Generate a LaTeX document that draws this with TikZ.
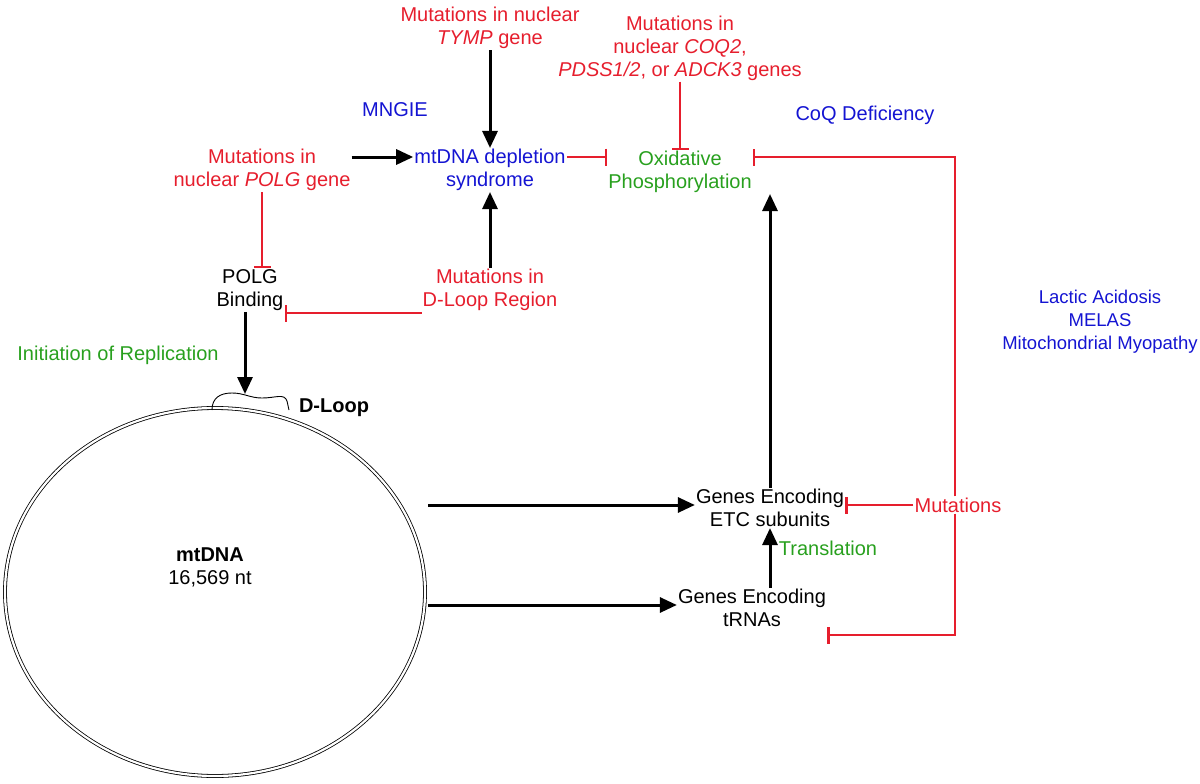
\documentclass[tikz,border=0pt]{standalone}
\usepackage{fontspec}
\setmainfont{Liberation Sans}
\usetikzlibrary{arrows.meta}
\definecolor{mred}{RGB}{230,30,45}
\definecolor{mblue}{RGB}{20,20,210}
\definecolor{mgreen}{RGB}{40,160,30}
\begin{document}
\begin{tikzpicture}[x=1pt,y=-1pt,font=\fontsize{20}{23}\selectfont,
  txt/.style={align=center,inner sep=1pt},
  act/.style={line width=3pt,-{Triangle[length=17pt,width=15pt]}},
  inh/.style={mred,line width=2.4pt,-{Bar[width=17pt]}}]

  \useasboundingbox (0,0) rectangle (1200,784);

  % texts
  \node[txt,mred] (tymp) at (490,28) {Mutations in nuclear\\\textit{TYMP} gene};
  \node[txt,mblue] (mngie) at (395,110) {MNGIE};
  \node[txt,mblue] (mds) at (490,170) {mtDNA depletion\\syndrome};
  \node[txt,mred] (polg) at (262,170) {Mutations in\\nuclear \textit{POLG} gene};
  \node[txt,mred] (coq) at (680,48) {Mutations in\\nuclear \textit{COQ2},\\\textit{PDSS1/2}, or \textit{ADCK3} genes};
  \node[txt,mblue] (coqd) at (865,115) {CoQ Deficiency};
  \node[txt,mgreen] (oxph) at (680,172) {Oxidative\\Phosphorylation};
  \node[txt] (bind) at (250,290) {POLG\\Binding};
  \node[txt,mred] (dmut) at (490,290) {Mutations in\\D-Loop Region};
  \node[txt,mgreen] (init) at (118,355) {Initiation of Replication};
  \node[txt] (etc) at (770,508) {Genes Encoding\\ETC subunits};
  \node[txt] (trna) at (752,608) {Genes Encoding\\tRNAs};
  \node[txt,mgreen] (transl) at (828,548) {Translation};
  \node[txt,mred] (mut) at (958,505) {Mutations};
  \node[txt,mblue,font=\fontsize{18.5}{23}\selectfont] (dis) at (1100,322) {Lactic Acidosis\\MELAS\\Mitochondrial Myopathy};

  % mtDNA circle
  \draw[double,line width=0.8pt,double distance=2.2pt] (215,592) ellipse (210 and 184);
  \draw[line width=0.9pt] (212,410) .. controls (212,398) and (220,393) .. (232,393)
    .. controls (244,393) and (250,398) .. (262,398) .. controls (276,398) and (284,393) .. (287,401)
    -- (289,410);
  \node[txt,font=\fontsize{20}{23}\selectfont\bfseries] (dloop) at (334,408) {D-Loop};
  \node[txt] (mtdna) at (210,567) {\textbf{mtDNA}\\16,569 nt};

  \coordinate (circR1) at (428,505);
  \coordinate (circR2) at (428,605);
  \coordinate (circT) at (245,394);
  \coordinate (redTop) at (955,157);
  \coordinate (redBot) at (955,635);

  % connectors
  \draw[act] (tymp) -- (mds);
  \draw[act] (polg.east |- 0,157) -- (mds.west |- 0,157);
  \draw[act] (dmut) -- (mds);
  \draw[act] (bind.south -| circT) -- (circT);
  \draw[act] (circR1) -- (etc.west |- circR1);
  \draw[act] (circR2) -- (trna.west |- circR2);
  \draw[act] (trna.north -| etc) -- (etc);
  \draw[act] (etc.north) -- (oxph.south -| etc);
  \draw[inh] (mds.east |- 0,157) -- (oxph.west |- 0,157);
  \draw[inh] (coq) -- (oxph);
  \draw[inh] (polg.south -| 262,0) -- (bind.north -| 262,0);
  \draw[inh] (dmut.west |- 0,313) -- (bind.east |- 0,313);
  \draw[inh] (mut) -- (etc.east |- mut);
  \draw[inh] (mut.north -| redTop) -- (redTop) -- (oxph.east |- redTop);
  \draw[inh] (mut.south -| redBot) -- (redBot) -- (trna.east |- redBot);
\end{tikzpicture}
\end{document}
